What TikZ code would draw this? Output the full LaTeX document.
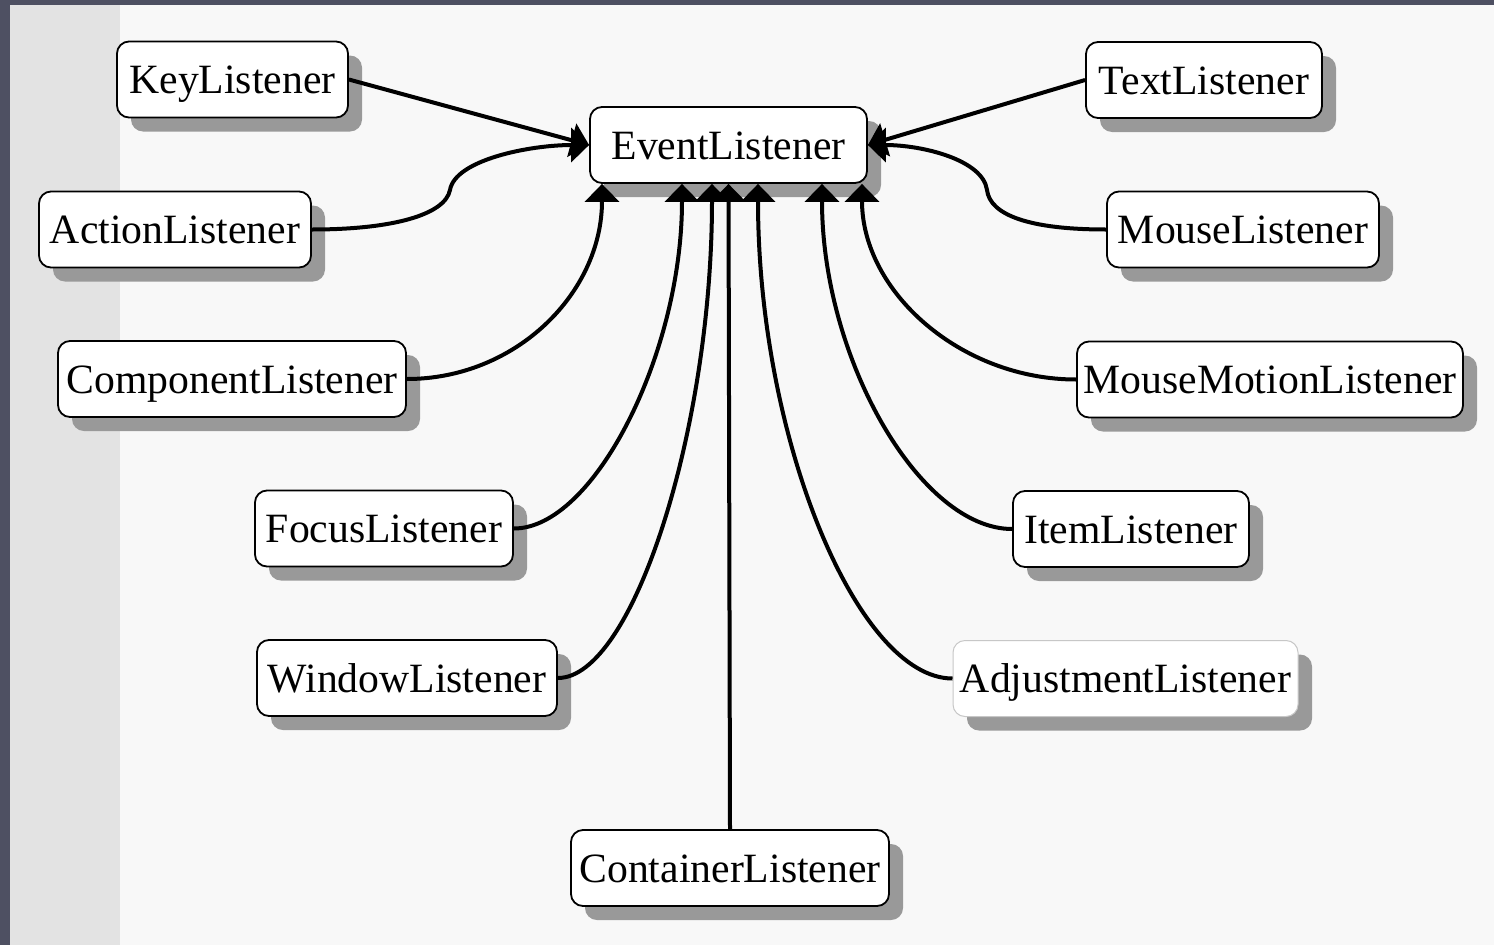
\documentclass[tikz,border=0pt]{standalone}
\usepackage{fontspec}
\setmainfont{Liberation Serif}
\usetikzlibrary{arrows.meta,shadows}
\definecolor{frameclr}{RGB}{78,80,98}
\definecolor{stripclr}{RGB}{227,227,227}
\definecolor{bgclr}{RGB}{248,248,248}
\definecolor{shadowgray}{RGB}{153,153,153}
\begin{document}
\begin{tikzpicture}[x=1pt,y=-1pt,
  box/.style={draw=black, line width=1.8pt, rounded corners=12pt, fill=white,
    minimum height=76pt, inner sep=0pt, text height=34pt, text depth=6pt,
    font=\fontsize{41.7}{48}\selectfont,
    drop shadow={shadow xshift=14pt, shadow yshift=-14pt, fill=shadowgray, opacity=1, draw=none}},
  link/.style={line width=4pt, -{Triangle[length=18pt,width=34pt]}}]
\useasboundingbox (0,0) rectangle (1494,945);
\fill[bgclr] (0,0) rectangle (1494,945);
\fill[stripclr] (10,5) rectangle (120,945);
\fill[frameclr] (0,0) rectangle (1494,5);
\fill[frameclr] (0,0) rectangle (10,945);

\node[box, minimum width=277pt] (ev) at (728.5,145) {EventListener};
\node[box, minimum width=231pt] (key) at (232.5,79.5) {KeyListener};
\node[box, minimum width=272pt] (act) at (175,229.5) {ActionListener};
\node[box, minimum width=348pt] (comp) at (232,379) {ComponentListener};
\node[box, minimum width=258pt] (focus) at (384,528.5) {FocusListener};
\node[box, minimum width=300pt] (win) at (407,678) {WindowListener};
\node[box, minimum width=318pt] (cont) at (730,868) {ContainerListener};
\node[box, minimum width=236pt] (text) at (1204,80) {TextListener};
\node[box, minimum width=272pt] (mouse) at (1243,229.5) {MouseListener};
\node[box, minimum width=386pt] (mm) at (1270,379.5) {MouseMotionListener};
\node[box, minimum width=236pt] (item) at (1131,529) {ItemListener};
\node[box, minimum width=345pt, draw=black!22, line width=1pt] (adj) at (1125.5,678.5) {AdjustmentListener};

\draw[link] (key.east) -- (ev.west);
\draw[link] (act.east) .. controls +(80,0) and +(-5,25) .. (450,190) .. controls +(5,-30) and +(-60,0) .. (ev.west);
\draw[link] (comp.east) .. controls +(109,0) and +(0,109) .. ([xshift=-126.5pt]ev.south);
\draw[link] (focus.east) .. controls +(80,0) and +(0,170) .. ([xshift=-46.5pt]ev.south);
\draw[link] (win.east) .. controls +(75,0) and +(0,245) .. ([xshift=-16.5pt]ev.south);
\draw[link] (cont.north) -- (ev.south);
\draw[link] (adj.west) .. controls +(-95,0) and +(0,255) .. ([xshift=29.5pt]ev.south);
\draw[link] (item.west) .. controls +(-92,0) and +(0,175) .. ([xshift=93.5pt]ev.south);
\draw[link] (mm.west) .. controls +(-115,0) and +(0,108) .. ([xshift=133.5pt]ev.south);
\draw[link] (mouse.west) .. controls +(-77,0) and +(3,25) .. (987,190) .. controls +(-4,-30) and +(55,0) .. (ev.east);
\draw[link] (text.west) -- (ev.east);
\end{tikzpicture}
\end{document}
